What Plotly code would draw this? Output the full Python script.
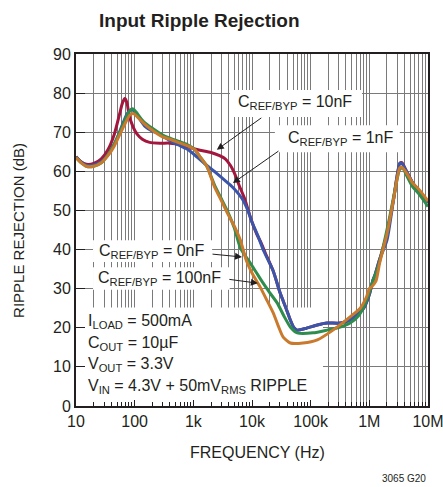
import plotly.graph_objects as go

# ---- data (frequency in Hz, rejection in dB) ----
F_10NF = [10, 12, 15, 20, 27, 35, 45, 55, 62, 68, 74, 80, 93, 110, 135, 180, 270, 400,
          600, 900, 1300, 2000, 2800, 3500, 4300, 5000, 6000, 7500, 9500, 12000, 14000,
          17000, 23000, 30000, 38000, 45000, 52000, 59000, 85000, 130000, 190000, 320000,
          470000, 630000, 800000, 1000000, 1150000, 1250000, 1500000, 2000000, 2600000,
          3300000, 3600000, 4300000, 5500000, 7000000, 10000000]
DB_10NF = [63.7, 62.5, 61.8, 62.0, 63.2, 65.5, 69.5, 74.5, 77.5, 78.6, 77.5, 74.5, 71.5,
           69.5, 68.2, 67.4, 67.2, 67.2, 66.8, 66.0, 65.4, 64.8, 64.0, 63.2, 61.5, 59.6,
           56.5, 53.0, 48.0, 44.0, 42.0, 39.0, 34.5, 29.0, 25.0, 22.0, 20.0, 19.4, 19.9,
           20.7, 21.2, 21.2, 22.0, 23.5, 25.0, 28.5, 32.0, 33.5, 37.5, 44.0, 53.0, 62.0,
           62.2, 60.0, 57.0, 55.0, 52.0]

F_1NF = [10, 12, 15, 20, 27, 35, 45, 55, 65, 75, 89, 100, 120, 150, 200, 240, 300, 400,
         600, 800, 1000, 1300, 1700, 2500, 3900, 5000, 6800, 8500, 10000, 12600, 16000,
         23000, 30000, 38000, 45000, 52000, 59000, 85000, 130000, 190000, 320000, 470000,
         630000, 800000, 1000000, 1150000, 1250000, 1500000, 2000000, 2600000, 3300000,
         3600000, 4300000, 5500000, 7000000, 10000000]
DB_1NF = [63.7, 62.5, 61.6, 61.6, 62.5, 64.2, 67.0, 70.0, 72.8, 74.8, 75.8, 75.2, 73.5,
          71.5, 70.3, 69.8, 69.0, 67.8, 66.5, 65.6, 64.5, 63.0, 61.5, 59.5, 57.0, 55.5,
          53.0, 50.0, 47.0, 43.5, 39.5, 34.5, 29.0, 25.0, 22.0, 20.0, 19.4, 19.9, 20.7,
          21.2, 21.2, 22.0, 23.5, 25.0, 28.5, 32.2, 33.5, 37.5, 42.4, 53.0, 62.1, 62.0,
          60.0, 57.0, 55.0, 52.0]

F_0NF = [10, 12, 15, 20, 27, 35, 45, 56, 70, 83, 92, 105, 140, 200, 300, 400, 600, 800,
         1070, 1300, 1700, 2300, 3000, 3900, 5000, 6300, 8000, 9300, 12000, 15500, 20000,
         27000, 35000, 45000, 59000, 110000, 190000, 320000, 470000, 650000, 800000,
         1000000, 1150000, 1300000, 1500000, 2200000, 2800000, 3300000, 3700000, 4300000,
         5500000, 7200000, 10000000]
DB_0NF = [63.5, 62.3, 61.3, 61.3, 62.2, 64.2, 67.0, 70.0, 73.5, 75.5, 76.0, 75.2, 72.8,
          71.0, 69.3, 68.5, 67.5, 66.8, 65.5, 63.7, 61.3, 56.5, 53.0, 49.5, 45.5, 40.5,
          38.0, 36.6, 34.0, 31.4, 29.0, 26.3, 23.0, 20.2, 18.7, 18.7, 19.4, 20.2, 21.2,
          23.0, 25.3, 29.0, 32.0, 34.0, 37.0, 48.0, 56.0, 60.5, 60.8, 59.0, 56.0, 54.0, 51.0]

F_100NF = [10, 12, 15, 20, 27, 35, 45, 56, 70, 83, 95, 110, 140, 200, 300, 400, 600, 800,
           1070, 1300, 1700, 2300, 3000, 3900, 5000, 6300, 8100, 10000, 13800, 18000,
           23000, 28000, 34000, 45000, 74000, 130000, 240000, 470000, 700000, 900000,
           1000000, 1100000, 1300000, 1500000, 2000000, 2600000, 3300000, 3600000,
           4300000, 5500000, 7200000, 10000000]
DB_100NF = [63.5, 62.3, 61.3, 61.3, 62.2, 64.0, 66.5, 69.5, 72.5, 74.4, 74.8, 74.0, 72.4,
            70.5, 68.8, 68.2, 67.2, 66.5, 65.5, 63.7, 61.3, 56.0, 52.5, 49.0, 46.0, 42.5,
            37.0, 34.0, 30.4, 27.0, 23.8, 20.5, 17.6, 16.1, 16.1, 16.9, 19.4, 22.8, 25.0,
            28.0, 30.0, 30.5, 32.0, 36.6, 44.0, 53.0, 60.9, 61.0, 59.6, 57.0, 55.2, 52.4]

TICK_VALS = [10, 100, 1e3, 1e4, 1e5, 1e6, 1e7]
TICK_TEXT = ["10", "100", "1k", "10k", "100k", "1M", "10M"]
MINOR_VALS = [m * 10 ** k for k in range(1, 7) for m in range(2, 10)]

FONT = "Liberation Sans, Arial, sans-serif"
INK = "#231f20"
GRID = "#7a7a7a"

series = [
    ("10nF", F_10NF, DB_10NF, "#a3173e"),
    ("1nF", F_1NF, DB_1NF, "#3a55aa"),
    ("0nF", F_0NF, DB_0NF, "#2e8c4c"),
    ("100nF", F_100NF, DB_100NF, "#c97a2c"),
]

fig = go.Figure()
for name, f, db, color in series:
    fig.add_trace(go.Scatter(x=f, y=db, mode="lines", name=name,
                             line=dict(color=color, width=3, shape="spline", smoothing=0.6),
                             showlegend=False))

# white patches that hide the grid behind the labels (log10 frequency, dB)
boxes = [
    (3.625, 5.875, 73.9, 80.8),
    (4.39, 6.52, 64.9, 71.8),
    (1.29, 3.32, 36.8, 42.4),
    (1.29, 3.62, 29.7, 35.5),
    (1.0, 5.21, 0, 25.2),
]
for x0, x1, y0, y1 in boxes:
    fig.add_shape(type="rect", x0=10 ** x0, x1=10 ** x1, y0=y0, y1=y1, xref="x", yref="y",
                  fillcolor="white", line_width=0, layer="between")

sub = "C<sub>REF/BYP</sub> = "
labels = [
    (sub + "10nF", 4.73, 77.7),
    (sub + "1nF", 5.50, 68.5),
    (sub + "0nF", 2.28, 39.6),
    (sub + "100nF", 2.43, 32.7),
]
for text, x, y in labels:
    fig.add_annotation(x=x, y=y, text=text, showarrow=False,
                       font=dict(family=FONT, size=16, color=INK))

# arrows: head at (log10 f, dB), tail as pixel offset
arrows = [
    (3.40, 65.5, 46, -33),
    (3.675, 57.0, 47, -33),
    (3.83, 38.1, -31, -3),
    (4.10, 31.4, -30, -4),
]
for x, y, ax, ay in arrows:
    fig.add_annotation(x=x, y=y, ax=ax, ay=ay, text="", showarrow=True,
                       arrowhead=2, arrowsize=1.4, arrowwidth=1, arrowcolor=INK)

conditions = [
    ("I<sub>LOAD</sub> = 500mA", 21.5),
    ("C<sub>OUT</sub> = 10µF", 16.1),
    ("V<sub>OUT</sub> = 3.3V", 10.5),
    ("V<sub>IN</sub> = 4.3V + 50mV<sub>RMS</sub> RIPPLE", 5.1),
]
for text, y in conditions:
    fig.add_annotation(x=1.17, y=y, text=text, showarrow=False, xanchor="left",
                       font=dict(family=FONT, size=16, color=INK))

fig.add_annotation(x=0.352, y=1.0, xref="paper", yref="paper", yshift=34, yanchor="middle",
                   text="<b>Input Ripple Rejection</b>", showarrow=False, xanchor="center",
                   font=dict(family=FONT, size=19, color=INK))
fig.add_annotation(x=0.517, y=0, xref="paper", yref="paper", yshift=-46, yanchor="middle",
                   text="FREQUENCY (Hz)", showarrow=False, xanchor="center",
                   font=dict(family=FONT, size=16, color=INK))
fig.add_annotation(x=-0.165, y=0.5, xref="paper", yref="paper", textangle=-90,
                   xanchor="center", yanchor="middle",
                   text="RIPPLE REJECTION (dB)", showarrow=False,
                   font=dict(family=FONT, size=15, color=INK))
fig.add_annotation(x=1.0, y=0, xref="paper", yref="paper", yshift=-72, xanchor="right",
                   yanchor="middle", text="3065 G20", showarrow=False,
                   font=dict(family=FONT, size=10, color=INK))

fig.update_xaxes(type="log", range=[0.9999, 7.0001], tickvals=TICK_VALS, ticktext=TICK_TEXT,
                 ticklabeloverflow="allow",
                 showgrid=True, gridcolor=GRID, gridwidth=1, automargin=False,
                 ticks="inside", ticklen=6, tickcolor=INK,
                 minor=dict(tickvals=MINOR_VALS, showgrid=True, gridcolor=GRID, gridwidth=1,
                            ticks="inside", ticklen=4, tickcolor=INK),
                 showline=True, linecolor=INK, linewidth=2, mirror=True,
                 tickfont=dict(family=FONT, size=16, color=INK))
fig.update_yaxes(range=[0, 90], dtick=10, showgrid=True, gridcolor=GRID, gridwidth=1,
                 ticks="inside", ticklen=9, tickcolor=INK, zeroline=False, automargin=False,
                 showline=True, linecolor=INK, linewidth=2, mirror=True,
                 tickfont=dict(family=FONT, size=16, color=INK))

fig.update_layout(width=443, height=487, margin=dict(l=76, r=15, t=54, b=81),
                  paper_bgcolor="white", plot_bgcolor="white", showlegend=False)

# drop the browser's default 8px body margin so the figure fills the window
fig.write_html("out.html", config={"displayModeBar": False},
               post_script="document.body.style.margin = '0';")
